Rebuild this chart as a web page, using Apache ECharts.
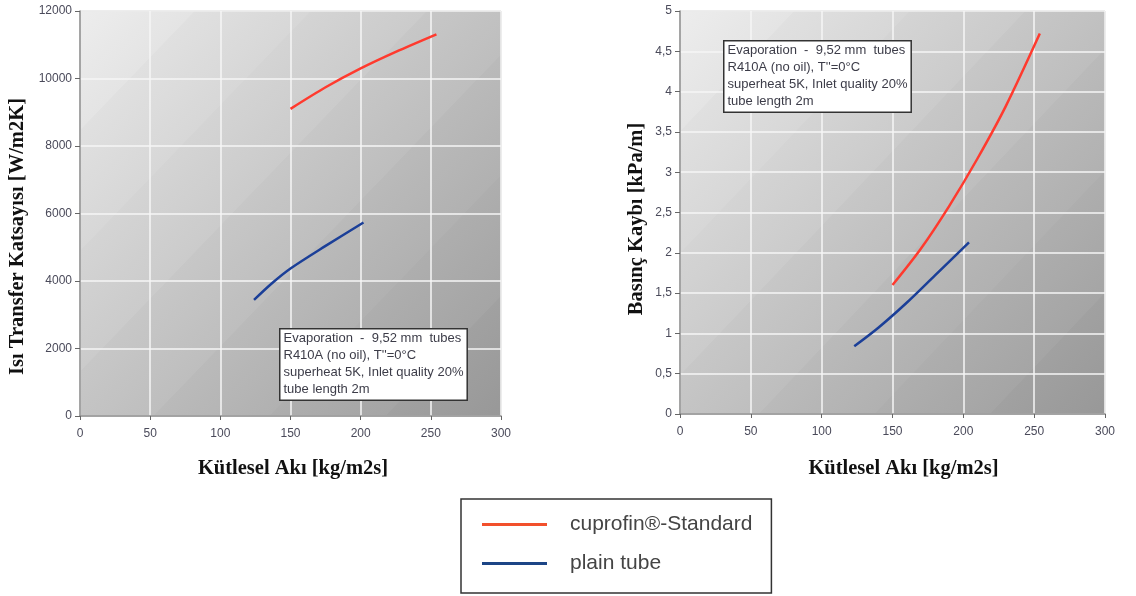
<!DOCTYPE html>
<html lang="tr">
<head>
    <meta charset="UTF-8">
    <title>cuprofin vs plain tube</title>
    <script src="https://cdn.jsdelivr.net/npm/echarts@6/dist/echarts.min.js"></script>
    <style>
        html, body { margin: 0; padding: 0; background: #fff; }
        #main { width: 1136px; height: 596px; }
    </style>
</head>
<body>
<div id="main"></div>
<script type="text/javascript">
    // values: [mass flux kg/m2s, value]
    var seriesNames = ['cuprofin®-Standard', 'plain tube'];
    var xTicks = [0, 50, 100, 150, 200, 250, 300];
    var htcTicks = [0, 2000, 4000, 6000, 8000, 10000, 12000];
    var dpTicks = [0, 0.5, 1, 1.5, 2, 2.5, 3, 3.5, 4, 4.5, 5];

    var cuprofinHtc = [[150, 9100], [175, 9740], [200, 10300], [225, 10790], [254, 11310]];
    var plainHtc = [[124, 3440], [137, 3940], [150, 4370], [175, 5040], [202, 5735]];
    var cuprofinDp = [[150, 1.6], [170, 2.05], [190, 2.58], [210, 3.17], [230, 3.82], [254, 4.72]];
    var plainDp = [[123, 0.84], [140, 1.07], [160, 1.38], [180, 1.72], [204, 2.13]];

    var noteText = 'Evaporation  -  9,52 mm  tubes\nR410A (no oil), T\'\'=0°C\nsuperheat 5K, Inlet quality 20%\ntube length 2m';

    var redLine = '#ff3a2e';
    var blueLine = '#1b3f98';

    // diagonal stripes: sawtooth stepped gradient
    function stripes(light, dark, n) {
        var stops = [];
        for (var i = 0; i < n; i++) {
            var c = Math.round(light - (light - dark) * i / (n - 1));
            var a = 'rgb(' + (c + 5) + ',' + (c + 5) + ',' + (c + 5) + ')';
            var b = 'rgb(' + (c - 4) + ',' + (c - 4) + ',' + (c - 4) + ')';
            stops.push({offset: i / n, color: a});
            stops.push({offset: (i + 1) / n - 0.001, color: b});
        }
        return new echarts.graphic.LinearGradient(0, 0, 1, 1, stops);
    }

    var nameFont = {fontFamily: 'Liberation Serif', fontWeight: 'bold', fontSize: 20.5, color: '#111'};

    function yAxisOf(gridIndex, ticks, name, gap, shift, fmt) {
        return {
            type: 'value', gridIndex: gridIndex,
            min: ticks[0], max: ticks[ticks.length - 1], interval: ticks[1] - ticks[0],
            name: name, nameLocation: 'middle', nameGap: gap,
            nameTextStyle: Object.assign({padding: [0, shift, 0, 0]}, nameFont),
            axisLine: {show: true, lineStyle: {color: '#8c8c8c', width: 1.5}},
            axisTick: {show: true, length: 5, lineStyle: {color: '#666'}},
            axisLabel: {margin: 8, fontFamily: 'Liberation Sans', fontSize: 12, color: '#4a4a5a', formatter: fmt},
            splitLine: {show: true, lineStyle: {color: '#f6f6f6', width: 1.5}}
        };
    }

    function xAxisOf(gridIndex, gap, shift) {
        return {
            type: 'value', gridIndex: gridIndex,
            min: xTicks[0], max: xTicks[xTicks.length - 1], interval: xTicks[1] - xTicks[0],
            name: 'Kütlesel Akı [kg/m2s]', nameLocation: 'middle', nameGap: gap,
            nameTextStyle: Object.assign({padding: [0, 0, 0, shift]}, nameFont),
            axisLine: {show: true, lineStyle: {color: '#8c8c8c', width: 1.5}},
            axisTick: {show: true, length: 4, lineStyle: {color: '#666'}},
            axisLabel: {margin: 12, fontFamily: 'Liberation Sans', fontSize: 12, color: '#4a4a5a'},
            splitLine: {show: true, lineStyle: {color: '#f6f6f6', width: 1.5}}
        };
    }

    function line(name, data, xi, color) {
        return {
            name: name, type: 'line', xAxisIndex: xi, yAxisIndex: xi,
            data: data, smooth: 0.3, showSymbol: false, silent: true,
            lineStyle: {color: color, width: 2.5}, itemStyle: {color: color}
        };
    }

    var myChart = echarts.init(document.getElementById('main'));

    var option = {
        animation: false,
        grid: [
            {left: 80, top: 11, width: 421, height: 405, show: true,
             backgroundColor: stripes(0xe8, 0x9c, 7), borderColor: '#a8a8a8', borderWidth: 1},
            {left: 680, top: 11, width: 425, height: 403, show: true,
             backgroundColor: stripes(0xe8, 0x9c, 7), borderColor: '#a8a8a8', borderWidth: 1}
        ],
        xAxis: [xAxisOf(0, 42, 5), xAxisOf(1, 44, 22)],
        yAxis: [
            yAxisOf(0, htcTicks, 'Isı Transfer Katsayısı [W/m2K]', 52, 46, function (v) { return String(v); }),
            yAxisOf(1, dpTicks, 'Basınç Kaybı [kPa/m]', 33, 13, function (v) { return String(v).replace('.', ','); })
        ],
        legend: {
            orient: 'vertical', left: 461, top: 499,
            data: [
                {name: seriesNames[0], itemStyle: {color: '#f2502c'}},
                {name: seriesNames[1], itemStyle: {color: '#1c4586'}}
            ],
            icon: 'rect', itemWidth: 65, itemHeight: 3, itemGap: 18,
            padding: [15, 19, 19, 21],
            borderColor: '#333', borderWidth: 1.5, backgroundColor: '#fff',
            textStyle: {fontFamily: 'Liberation Sans', fontSize: 21, lineHeight: 20, color: '#444', padding: [0, 0, 0, 18]}
        },
        graphic: [
            {type: 'text', left: 279, top: 328, z: 100,
             style: {text: noteText, font: '13px "Liberation Sans"', lineHeight: 17, fill: '#3c3c48',
                     backgroundColor: '#fff', borderColor: '#333', borderWidth: 1.5, padding: [0, 3, 2, 3]}},
            {type: 'text', left: 723, top: 40, z: 100,
             style: {text: noteText, font: '13px "Liberation Sans"', lineHeight: 17, fill: '#3c3c48',
                     backgroundColor: '#fff', borderColor: '#333', borderWidth: 1.5, padding: [0, 3, 2, 3]}}
        ],
        series: [
            line(seriesNames[0], cuprofinHtc, 0, redLine),
            line(seriesNames[1], plainHtc, 0, blueLine),
            line(seriesNames[0], cuprofinDp, 1, redLine),
            line(seriesNames[1], plainDp, 1, blueLine)
        ]
    };
    myChart.setOption(option);
</script>
</body>
</html>
